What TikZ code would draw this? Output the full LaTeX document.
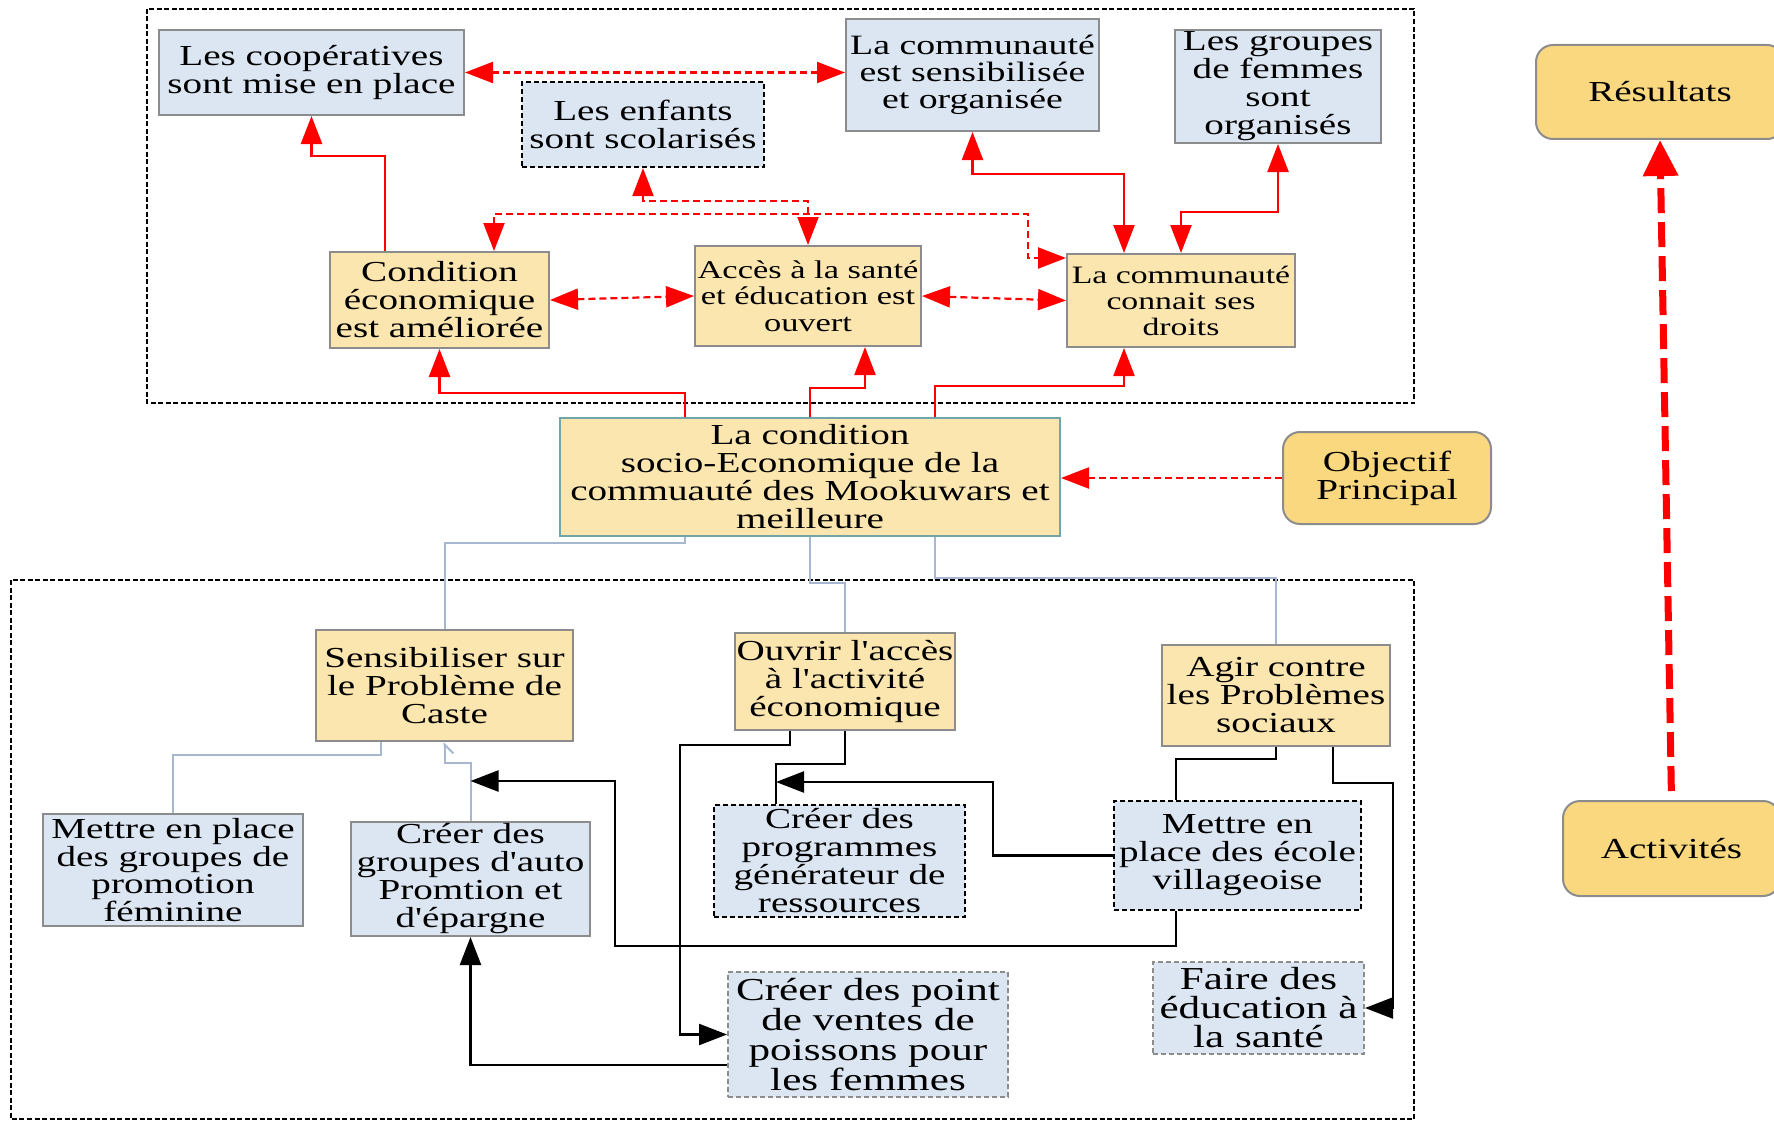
\documentclass[tikz,border=0pt]{standalone}
\usepackage{fontspec}
\setmainfont{Liberation Serif}[FakeStretch=1.35,Ligatures=TeXOff]
\usetikzlibrary{arrows.meta,calc}
\definecolor{bluefill}{HTML}{DCE6F2}
\definecolor{yellowfill}{HTML}{FCE6B0}
\definecolor{goldfill}{HTML}{FAD87F}
\definecolor{boxgray}{HTML}{8C8C8C}
\definecolor{tealc}{HTML}{70A5AA}
\definecolor{lightline}{HTML}{A7B7CF}
\newcommand\myfs[2]{\fontsize{#1pt}{#2pt}\selectfont}
\begin{document}
\begin{tikzpicture}[x=1pt,y=-1pt,
  >={Triangle[length=28pt,width=21pt]},
  box/.style={draw=boxgray, line width=2pt, inner sep=0pt, align=center, font=\myfs{29}{28}},
  bluebox/.style={box, fill=bluefill},
  yellowbox/.style={box, fill=yellowfill},
  goldbox/.style={box, fill=goldfill, rounded corners=17pt},
  dashbox/.style={draw=black, line width=2.2pt, dash pattern=on 5pt off 3pt},
  graydash/.style={draw=boxgray, dash pattern=on 5pt off 3pt},
  frame/.style={draw=black, line width=1.6pt, dash pattern=on 5pt off 2.5pt},
  rsolid/.style={draw=red, line width=2.4pt},
  rdash/.style={draw=red, line width=2.2pt, dash pattern=on 7pt off 4pt},
  lline/.style={draw=lightline, line width=2pt},
  bline/.style={draw=black, line width=2.4pt},
  bigred/.style={draw=red, line width=7pt, dash pattern=on 25pt off 9pt, -{Triangle[length=36pt,width=34pt]}}
]
\path[use as bounding box] (0,0) rectangle (1774,1121);
\clip (0,0) rectangle (1774,1121);

% frames
\draw[frame] (147,9) rectangle (1414,403);
\draw[frame] (11,580) rectangle (1414,1119);

% top nodes
\node[bluebox, minimum width=305pt, minimum height=85pt] (coop) at (311.5,72.5) {Les coopératives\\sont mise en place};
\node[bluebox, dashbox, minimum width=242pt, minimum height=85pt] (enf) at (643,124.5) {Les enfants\\sont scolarisés};
\node[bluebox, minimum width=253pt, minimum height=112pt, font=\myfs{28}{27}] (sens) at (972.5,75) {La communauté\\est sensibilisée\\et organisée};
\node[bluebox, minimum width=206pt, minimum height=113pt] (fem) at (1278,86.5) {Les groupes\\de femmes\\sont\\organisés};
\node[yellowbox, minimum width=219pt, minimum height=96pt] (cond) at (439.5,300) {Condition\\économique\\est améliorée};
\node[yellowbox, minimum width=226pt, minimum height=100pt, font=\myfs{25.5}{26.5}] (acc) at (808,296) {Accès à la santé\\et éducation est\\ouvert};
\node[yellowbox, minimum width=228pt, minimum height=93pt, font=\myfs{25}{26}] (con) at (1181,300.5) {La communauté\\connait ses\\droits};

% middle
\node[yellowbox, draw=tealc, minimum width=500pt, minimum height=118pt] (main) at (810,477) {La condition\\socio-Economique de la\\commuauté des Mookuwars et\\meilleure};
\node[goldbox, minimum width=208pt, minimum height=92pt] (obj) at (1387,478) {Objectif\\Principal};
\node[goldbox, minimum width=248pt, minimum height=94pt] (res) at (1660,92) {Résultats};
\node[goldbox, minimum width=217pt, minimum height=95pt] (act) at (1671.5,848.5) {Activités};

% bottom nodes
\node[yellowbox, minimum width=257pt, minimum height=111pt] (sen) at (444.5,685.5) {Sensibiliser sur\\le Problème de\\Caste};
\node[yellowbox, minimum width=220pt, minimum height=97pt] (ouv) at (845,681.5) {Ouvrir l'accès\\à l'activité\\économique};
\node[yellowbox, minimum width=228pt, minimum height=101pt] (agi) at (1276,695.5) {Agir contre\\les Problèmes\\sociaux};
\node[bluebox, minimum width=260pt, minimum height=112pt, font=\myfs{29}{27.5}] (mgr) at (173,870) {Mettre en place\\des groupes de\\promotion\\féminine};
\node[bluebox, minimum width=239pt, minimum height=114pt] (cgr) at (470.5,879) {Créer des\\groupes d'auto\\Promtion et\\d'épargne};
\node[bluebox, dashbox, minimum width=251pt, minimum height=112pt] (prog) at (839.5,861) {Créer des\\programmes\\générateur de\\ressources};
\node[bluebox, dashbox, minimum width=247pt, minimum height=109pt] (eco) at (1237.5,855.5) {Mettre en\\place des école\\villageoise};
\node[bluebox, graydash, minimum width=280pt, minimum height=125pt, font=\myfs{32}{30}] (pt) at (868,1034.5) {Créer des point\\de ventes de\\poissons pour\\les femmes};
\node[bluebox, graydash, minimum width=211pt, minimum height=92pt, font=\myfs{32}{29}] (fai) at (1258.5,1008) {Faire des\\éducation à\\la santé};

% top red connectors
\draw[rsolid,->] (385,0 |- cond.north) -- (385,156) -- (311.5,156) -- (coop.south);
\draw[rdash,<->] (coop.east) -- (coop.east -| sens.west);
\draw[rdash,<->] (enf.south) -- (643,201) -- (808,201) -- (acc.north);
\draw[rdash,<->] (494,0 |- cond.north) -- (494,214) -- (1028,214) -- (1028,258) -- (con.north west |- 0,258);
\draw[rdash,<->] (cond.east) -- (acc.west);
\draw[rdash,<->] (acc.east) -- (con.west);
\draw[rsolid,<->] (sens.south) -- (972.5,174) -- (1124,174) -- (1124,0 |- con.north);
\draw[rsolid,<->] (fem.south) -- (1278,212) -- (1181,212) -- (con.north);
\draw[rsolid,->] (685,0 |- main.north) -- (685,393) -- (439.5,393) -- (cond.south);
\draw[rsolid,->] (main.north) -- (810,388) -- (865,388) -- (865,0 |- acc.south);
\draw[rsolid,->] (935,0 |- main.north) -- (935,386) -- (1124,386) -- (1124,0 |- con.south);
\draw[rdash,->] (obj.west) -- (obj.west -| main.east);
\draw[bigred, shorten <=9pt] (act.north) -- (res.south);

% light connectors
\draw[lline] (685,0 |- main.south) -- (685,543) -- (444.5,543) -- (sen.north);
\draw[lline] (main.south) -- (810,583) -- (845,583) -- (ouv.north);
\draw[lline] (935,0 |- main.south) -- (935,578) -- (1276,578) -- (agi.north);
\draw[lline] (381,0 |- sen.south) -- (381,755) -- (173,755) -- (mgr.north);
\draw[lline,-{Straight Barb[harpoon,swap,length=9pt,width=18pt]}] (cgr.north) -- (470.5,763) -- (444.5,763) -- (sen.south);

% black connectors
\coordinate (ejoin) at (470.5,781);
\coordinate (gjoin) at (776,782);
\draw[bline,->] (790,0 |- ouv.south) -- (790,745) -- (680,745) -- (680,1034.5) -- (pt.west);
\draw[bline] (ouv.south) -- (845,764) -- (776,764) -- (776,0 |- prog.north);
\draw[bline,->] (eco.west) -- (993,855.5) -- (993,782) -- (gjoin);
\draw[bline] (agi.south) -- (1276,759) -- (1176,759) -- (1176,0 |- eco.north);
\draw[bline,->] (1333,0 |- agi.south) -- (1333,783) -- (1393,783) -- (1393,1008) -- (fai.east);
\draw[bline,->] (1176,0 |- eco.south) -- (1176,946) -- (615,946) -- (615,781) -- (ejoin);
\draw[bline,->] (pt.west |- 0,1065) -- (470.5,1065) -- (cgr.south);
\end{tikzpicture}
\end{document}
